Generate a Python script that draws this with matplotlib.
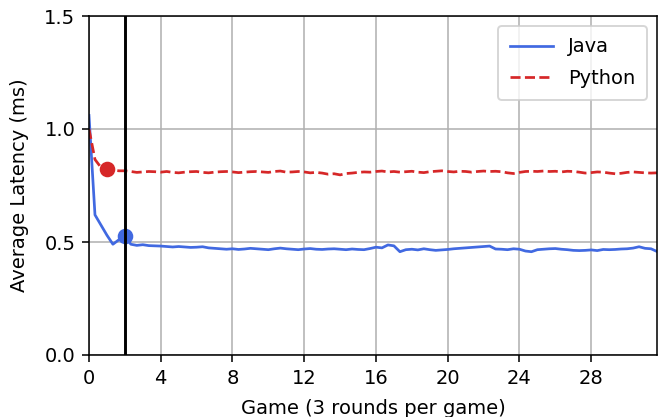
import numpy as np
import matplotlib
matplotlib.use("Agg")
import matplotlib.pyplot as plt

# ------------------------------------------------------------
# Data: average latency per round (3 rounds per game)
# ------------------------------------------------------------
java_latency = [
    1.06, 0.62, 0.575, 0.53, 0.49, 0.51, 0.525, 0.49, 0.485, 0.488,
    0.484, 0.483, 0.482, 0.480, 0.478, 0.480, 0.478, 0.476, 0.477, 0.479,
    0.474, 0.472, 0.470, 0.468, 0.470, 0.467, 0.469, 0.472, 0.470, 0.468,
    0.466, 0.470, 0.473, 0.470, 0.468, 0.466, 0.469, 0.471, 0.468, 0.467,
    0.469, 0.470, 0.468, 0.466, 0.469, 0.467, 0.466, 0.471, 0.477, 0.474,
    0.487, 0.483, 0.457, 0.466, 0.468, 0.465, 0.470, 0.466, 0.463, 0.465,
    0.467, 0.470, 0.472, 0.474, 0.476, 0.478, 0.480, 0.482, 0.469, 0.468,
    0.466, 0.470, 0.468, 0.460, 0.457, 0.466, 0.468, 0.470, 0.471, 0.468,
    0.466, 0.463, 0.462, 0.463, 0.465, 0.462, 0.467, 0.466, 0.467, 0.469,
    0.470, 0.473, 0.479, 0.472, 0.470, 0.458,
]
python_latency = [
    1.00, 0.865, 0.83, 0.822, 0.818, 0.815, 0.815, 0.812, 0.808, 0.810,
    0.812, 0.811, 0.809, 0.812, 0.808, 0.806, 0.809, 0.811, 0.812, 0.808,
    0.806, 0.809, 0.811, 0.812, 0.810, 0.807, 0.809, 0.811, 0.812, 0.810,
    0.808, 0.812, 0.814, 0.809, 0.810, 0.812, 0.810, 0.806, 0.808, 0.805,
    0.800, 0.802, 0.797, 0.803, 0.805, 0.808, 0.810, 0.809, 0.812, 0.814,
    0.810, 0.812, 0.809, 0.811, 0.813, 0.809, 0.807, 0.811, 0.813, 0.815,
    0.812, 0.810, 0.813, 0.812, 0.809, 0.812, 0.814, 0.812, 0.813, 0.811,
    0.806, 0.803, 0.808, 0.812, 0.813, 0.812, 0.814, 0.812, 0.813, 0.810,
    0.813, 0.812, 0.809, 0.805, 0.807, 0.810, 0.809, 0.805, 0.802, 0.804,
    0.808, 0.810, 0.808, 0.806, 0.805, 0.806,
]
rounds_per_game = 3
java_converge_round = 6     # game 2
python_converge_round = 3   # game 1
warmup_game = 2

games = np.arange(len(java_latency)) / rounds_per_game

# ------------------------------------------------------------
# Plot (drawn at 140 dpi so the default sizes scale up)
# ------------------------------------------------------------
dpi = 140
fig, ax = plt.subplots(figsize=(660 / dpi, 417 / dpi), dpi=dpi)
fig.subplots_adjust(left=89 / 660, right=657 / 660, top=1 - 16 / 417, bottom=1 - 355 / 417)

java_color = "#4169e1"
python_color = "#d62728"

ax.plot(games, java_latency, color=java_color, lw=1.4, label="Java")
ax.plot(games, python_latency, color=python_color, lw=1.4, ls="--", label="Python")

ax.plot(games[java_converge_round], java_latency[java_converge_round], "o",
        color=java_color, ms=7)
ax.plot(games[python_converge_round], python_latency[python_converge_round], "o",
        color=python_color, ms=7)

ax.axvline(warmup_game, color="black", lw=1.5)

ax.set_xlim(0, games[-1])
ax.set_ylim(0, 1.5)
ax.set_xticks(np.arange(0, 29, 4))
ax.set_yticks([0.0, 0.5, 1.0, 1.5])
ax.grid(True)
ax.set_xlabel("Game (3 rounds per game)", labelpad=6)
ax.set_ylabel("Average Latency (ms)", labelpad=8)
ax.legend(loc="upper right", labelspacing=0.65, borderpad=0.6, handlelength=2.2)

fig.savefig("out.png", dpi=dpi)
